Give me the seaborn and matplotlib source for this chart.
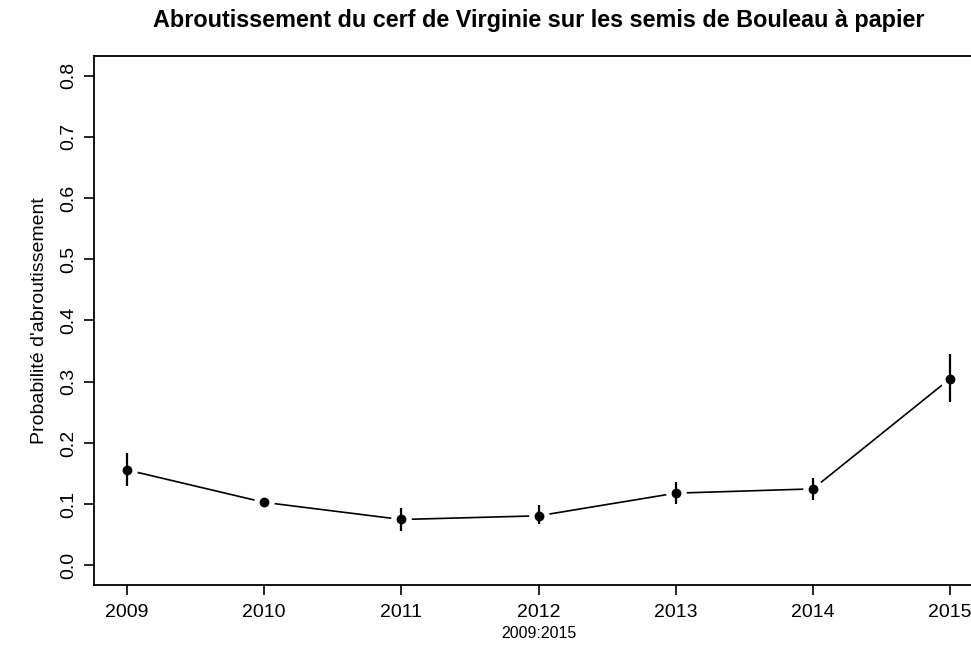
import matplotlib
matplotlib.use("Agg")
import matplotlib.pyplot as plt
import seaborn as sns
import pandas as pd

# values
years = [2009, 2010, 2011, 2012, 2013, 2014, 2015]
prob = [0.156, 0.103, 0.075, 0.081, 0.118, 0.125, 0.305]
lower = [0.130, 0.095, 0.057, 0.067, 0.101, 0.107, 0.267]
upper = [0.183, 0.110, 0.093, 0.098, 0.137, 0.143, 0.345]
yticks = [0.0, 0.1, 0.2, 0.3, 0.4, 0.5, 0.6, 0.7, 0.8]

df = pd.DataFrame({'year': years, 'prob': prob, 'lo': lower, 'hi': upper})

sns.set_style("ticks")
plt.rcParams['font.family'] = ['Liberation Sans', 'DejaVu Sans']
plt.rcParams['text.color'] = 'black'
plt.rcParams['axes.labelcolor'] = 'black'

fig = plt.figure(figsize=(9.71, 6.68), dpi=100)
ax = fig.add_axes([94 / 971, 1 - 585 / 668, (983 - 94) / 971, (585 - 56) / 668])

# line with gaps around the points (like R type="b")
sns.lineplot(x='year', y='prob', data=df, ax=ax, color='black', lw=1.2, zorder=1)
ax.scatter(df['year'], df['prob'], s=190, color='white', zorder=2)
ax.vlines(df['year'], df['lo'], df['hi'], color='black', lw=1.6, zorder=3)
sns.scatterplot(x='year', y='prob', data=df, ax=ax, color='black', s=50,
                edgecolor='black', linewidth=0, zorder=4)

ax.set_xlim(2009 - 0.24, 2015 + 0.24)
ax.set_ylim(-0.032, 0.832)
ax.set_xticks(years)
ax.set_xticklabels([str(y) for y in years])
ax.set_yticks(yticks)
ax.set_yticklabels([f'{v:.1f}' for v in yticks], rotation=90, va='center')

for side in ['left', 'top', 'bottom']:
    ax.spines[side].set_linewidth(1.3)
    ax.spines[side].set_color('black')
ax.spines['right'].set_visible(False)
ax.tick_params(axis='both', direction='out', length=7, width=1.2,
               labelsize=14, colors='black')
ax.tick_params(axis='x', pad=7)
ax.tick_params(axis='y', pad=5)

ax.set_xlabel('2009:2015', fontsize=11.5)
ax.xaxis.set_label_coords(0.5, -0.078)
ax.set_ylabel("Probabilité d'abroutissement", fontsize=14,
              family=['Liberation Sans Narrow', 'Liberation Sans'], labelpad=9)
ax.set_title('Abroutissement du cerf de Virginie sur les semis de Bouleau à papier',
             fontsize=16.8, fontweight='bold', pad=21)

plt.savefig('out.png', dpi=100)
